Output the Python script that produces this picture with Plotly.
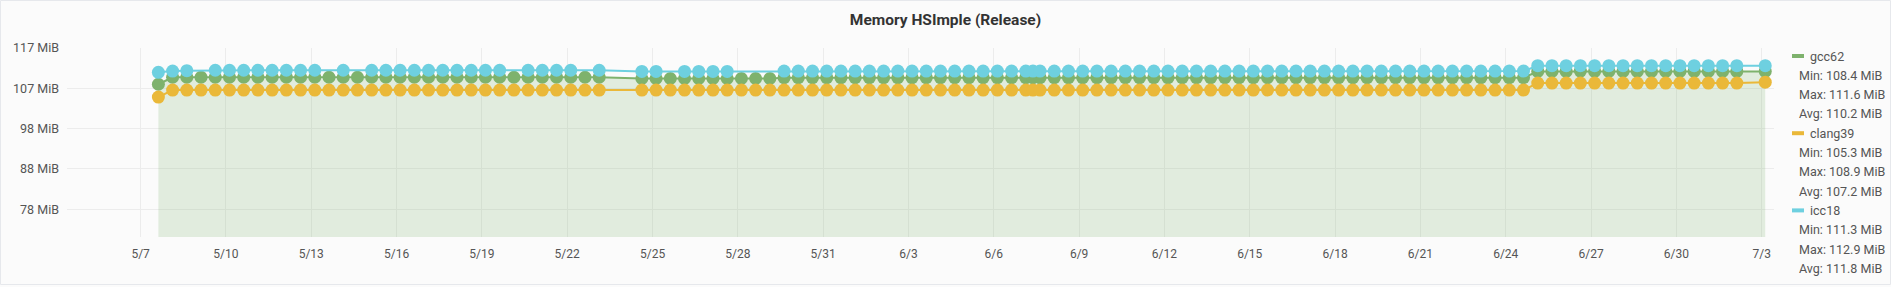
import plotly.graph_objects as go

# ---------------- data ----------------
timestamps = [
    "2018-05-07 15:00", "2018-05-08 03:00", "2018-05-08 15:00", "2018-05-09 03:00", "2018-05-09 15:00",
    "2018-05-10 03:00", "2018-05-10 15:00", "2018-05-11 03:00", "2018-05-11 15:00", "2018-05-12 03:00",
    "2018-05-12 15:00", "2018-05-13 03:00", "2018-05-13 15:00", "2018-05-14 03:00", "2018-05-14 15:00",
    "2018-05-15 03:00", "2018-05-15 15:00", "2018-05-16 03:00", "2018-05-16 15:00", "2018-05-17 03:00",
    "2018-05-17 15:00", "2018-05-18 03:00", "2018-05-18 15:00", "2018-05-19 03:00", "2018-05-19 15:00",
    "2018-05-20 03:00", "2018-05-20 15:00", "2018-05-21 03:00", "2018-05-21 15:00", "2018-05-22 03:00",
    "2018-05-22 15:00", "2018-05-23 03:00", "2018-05-24 15:00", "2018-05-25 03:00", "2018-05-25 15:00",
    "2018-05-26 03:00", "2018-05-26 15:00", "2018-05-27 03:00", "2018-05-27 15:00", "2018-05-28 03:00",
    "2018-05-28 15:00", "2018-05-29 03:00", "2018-05-29 15:00", "2018-05-30 03:00", "2018-05-30 15:00",
    "2018-05-31 03:00", "2018-05-31 15:00", "2018-06-01 03:00", "2018-06-01 15:00", "2018-06-02 03:00",
    "2018-06-02 15:00", "2018-06-03 03:00", "2018-06-03 15:00", "2018-06-04 03:00", "2018-06-04 15:00",
    "2018-06-05 03:00", "2018-06-05 15:00", "2018-06-06 03:00", "2018-06-06 15:00", "2018-06-07 03:00",
    "2018-06-07 09:00", "2018-06-07 15:00", "2018-06-08 03:00", "2018-06-08 15:00", "2018-06-09 03:00",
    "2018-06-09 15:00", "2018-06-10 03:00", "2018-06-10 15:00", "2018-06-11 03:00", "2018-06-11 15:00",
    "2018-06-12 03:00", "2018-06-12 15:00", "2018-06-13 03:00", "2018-06-13 15:00", "2018-06-14 03:00",
    "2018-06-14 15:00", "2018-06-15 03:00", "2018-06-15 15:00", "2018-06-16 03:00", "2018-06-16 15:00",
    "2018-06-17 03:00", "2018-06-17 15:00", "2018-06-18 03:00", "2018-06-18 15:00", "2018-06-19 03:00",
    "2018-06-19 15:00", "2018-06-20 03:00", "2018-06-20 15:00", "2018-06-21 03:00", "2018-06-21 15:00",
    "2018-06-22 03:00", "2018-06-22 15:00", "2018-06-23 03:00", "2018-06-23 15:00", "2018-06-24 03:00",
    "2018-06-24 15:00", "2018-06-25 03:00", "2018-06-25 15:00", "2018-06-26 03:00", "2018-06-26 15:00",
    "2018-06-27 03:00", "2018-06-27 15:00", "2018-06-28 03:00", "2018-06-28 15:00", "2018-06-29 03:00",
    "2018-06-29 15:00", "2018-06-30 03:00", "2018-06-30 15:00", "2018-07-01 03:00", "2018-07-01 15:00",
    "2018-07-02 03:00", "2018-07-03 03:00",
]

gcc62 = [
    108.4, 110.1, 110.1, 110.1, 110.1, 110.1, 110.1, 110.1, 110.1, 110.1,
    110.1, 110.1, 110.1, 110.1, 110.1, 110.1, 110.1, 110.1, 110.1, 110.1,
    110.1, 110.1, 110.1, 110.1, 110.1, 110.1, 110.1, 110.1, 110.1, 110.1,
    110.1, 110.1, 109.8, 109.8, 109.8, 109.8, 109.8, 109.8, 109.8, 109.8,
    109.8, 109.8, 110.0, 110.0, 110.0, 110.0, 110.0, 110.0, 110.0, 110.0,
    110.0, 110.0, 110.0, 110.0, 110.0, 110.0, 110.0, 110.0, 110.0, 110.0,
    110.0, 110.0, 110.0, 110.0, 110.0, 110.0, 110.0, 110.0, 110.0, 110.0,
    110.0, 110.0, 110.0, 110.0, 110.0, 110.0, 110.0, 110.0, 110.0, 110.0,
    110.0, 110.0, 110.0, 110.0, 110.0, 110.0, 110.0, 110.0, 110.0, 110.0,
    110.0, 110.0, 110.0, 110.0, 110.0, 110.0, 111.5, 111.5, 111.5, 111.6,
    111.5, 111.5, 111.5, 111.5, 111.5, 111.5, 111.5, 111.5, 111.5, 111.5,
    111.5, 111.5,
]

clang39 = [
    105.3, 107.0, 107.0, 107.0, 107.0, 107.0, 107.0, 107.0, 107.0, 107.0,
    107.0, 107.0, 107.0, 107.0, 107.0, 107.0, 107.0, 107.0, 107.0, 107.0,
    107.0, 107.0, 107.0, 107.0, 107.0, 107.0, 107.0, 107.0, 107.0, 107.0,
    107.0, 107.0, 107.0, 107.0, 107.0, 107.0, 107.0, 107.0, 107.0, 107.0,
    107.0, 107.0, 107.0, 107.0, 107.0, 107.0, 107.0, 107.0, 107.0, 107.0,
    107.0, 107.0, 107.0, 107.0, 107.0, 107.0, 107.0, 107.0, 107.0, 107.0,
    107.0, 107.0, 107.0, 107.0, 107.0, 107.0, 107.0, 107.0, 107.0, 107.0,
    107.0, 107.0, 107.0, 107.0, 107.0, 107.0, 107.0, 107.0, 107.0, 107.0,
    107.0, 107.0, 107.0, 107.0, 107.0, 107.0, 107.0, 107.0, 107.0, 107.0,
    107.0, 107.0, 107.0, 107.0, 107.0, 107.0, 108.7, 108.7, 108.7, 108.7,
    108.7, 108.7, 108.7, 108.7, 108.7, 108.7, 108.7, 108.7, 108.7, 108.7,
    108.7, 108.9,
]

icc18 = [
    111.3, 111.6, 111.7, None, 111.8, 111.8, 111.8, 111.8, 111.8, 111.8,
    111.8, 111.8, None, 111.8, None, 111.8, 111.8, 111.8, 111.8, 111.8,
    111.8, 111.8, 111.8, 111.8, 111.8, None, 111.8, 111.8, 111.8, 111.8,
    None, 111.8, 111.5, 111.5, None, 111.5, 111.5, 111.5, 111.5, None,
    None, None, 111.6, 111.6, 111.6, 111.6, 111.6, 111.6, 111.6, 111.6,
    111.6, 111.6, 111.6, 111.6, 111.6, 111.6, 111.6, 111.6, 111.6, 111.6,
    111.6, 111.6, 111.6, 111.6, 111.6, 111.6, 111.6, 111.6, 111.6, 111.6,
    111.6, 111.6, 111.6, 111.6, 111.6, 111.6, 111.6, 111.6, 111.6, 111.6,
    111.6, 111.6, 111.6, 111.6, 111.6, 111.6, 111.6, 111.6, 111.6, 111.6,
    111.6, 111.6, 111.6, 111.6, 111.6, 111.6, 112.9, 112.9, 112.9, 112.9,
    112.9, 112.9, 112.9, 112.9, 112.9, 112.9, 112.9, 112.9, 112.9, 112.9,
    112.9, 112.9,
]

series_names = ["gcc62", "clang39", "icc18"]
series_colors = ["#7EB26D", "#EAB839", "#6ED0E0"]
legend_min = ["108.4 MiB", "105.3 MiB", "111.3 MiB"]
legend_max = ["111.6 MiB", "108.9 MiB", "112.9 MiB"]
legend_avg = ["110.2 MiB", "107.2 MiB", "111.8 MiB"]

y_tick_values = [78.125, 87.890625, 97.65625, 107.421875, 117.1875]
y_tick_labels = ["78 MiB", "88 MiB", "98 MiB", "107 MiB", "117 MiB"]

title_text = "Memory HSImple (Release)"

# ---------------- layout geometry ----------------
W, H = 1891, 287
L, R, T, B = 67, 117, 48, 50
PW, PH = W - L - R, H - T - B


def px(x):
    return (x - L) / PW


def py(y):
    return (H - B - y) / PH


FONT = "Roboto, 'Open Sans', sans-serif"
TEXT_COLOR = "#555555"

fig = go.Figure()

values = [gcc62, clang39, icc18]
for i, (name, color, vals) in enumerate(zip(series_names, series_colors, values)):
    fig.add_trace(go.Scatter(
        x=timestamps, y=vals, name=name, mode="lines+markers",
        connectgaps=True,
        line=dict(color=color, width=2),
        marker=dict(color=color, size=13, line=dict(width=0)),
        fill="tozeroy" if i == 0 else None,
        fillcolor="rgba(126,178,109,0.2)" if i == 0 else None,
        hoverinfo="skip",
    ))

fig.update_layout(
    width=W, height=H,
    margin=dict(l=L, r=R, t=T, b=B, pad=0),
    paper_bgcolor="#fbfbfb",
    plot_bgcolor="#fbfbfb",
    showlegend=False,
    font=dict(family=FONT, size=12, color=TEXT_COLOR),
    title=dict(text="<b>" + title_text + "</b>", x=0.5, xanchor="center",
               xref="container", y=1 - 20 / H, yref="container", yanchor="middle",
               font=dict(family=FONT, size=15.5, color="#333333")),
    xaxis=dict(
        type="date",
        range=["2018-05-04 09:53", "2018-07-03 10:23"],
        tick0="2018-05-07", dtick=3 * 86400000,
        tickformat="%-m/%-d",
        showgrid=True, gridcolor="#ececec", gridwidth=1,
        zeroline=False, showline=False, ticks="",
        ticklabelstandoff=8,
        tickfont=dict(family=FONT, size=12, color=TEXT_COLOR),
        fixedrange=True,
    ),
    yaxis=dict(
        range=[71.39, 117.1875],
        tickmode="array", tickvals=y_tick_values, ticktext=y_tick_labels,
        showgrid=True, gridcolor="#ececec", gridwidth=1,
        zeroline=False, showline=False, ticks="",
        ticklabelstandoff=7,
        tickfont=dict(family=FONT, size=12.5, color=TEXT_COLOR),
        fixedrange=True,
    ),
)

# ---------------- legend (Grafana style, on the right) ----------------
row0_y, row_step = 56, 19.3
shapes = []
annotations = []
for i, name in enumerate(series_names):
    base = row0_y + i * 4 * row_step
    shapes.append(dict(type="rect", xref="paper", yref="paper",
                       x0=px(1792), x1=px(1804), y0=py(base + 2), y1=py(base - 2),
                       fillcolor=series_colors[i], line=dict(width=0)))
    annotations.append(dict(text=name, xref="paper", yref="paper",
                            x=px(1808), y=py(base), xanchor="left", yanchor="middle",
                            showarrow=False, font=dict(family=FONT, size=12.5, color=TEXT_COLOR)))
    for j, txt in enumerate(["Min: " + legend_min[i], "Max: " + legend_max[i], "Avg: " + legend_avg[i]]):
        annotations.append(dict(text=txt, xref="paper", yref="paper",
                                x=px(1797), y=py(base + (j + 1) * row_step),
                                xanchor="left", yanchor="middle", showarrow=False,
                                font=dict(family=FONT, size=12.5, color=TEXT_COLOR)))

# panel border
shapes.append(dict(type="rect", xref="paper", yref="paper",
                   x0=px(0.5), x1=px(W - 0.5), y0=py(284.5), y1=py(0.5),
                   line=dict(color="#e6e8ec", width=1), fillcolor="rgba(0,0,0,0)", layer="below"))

fig.update_layout(shapes=shapes, annotations=annotations)

fig.write_html("out.html", config={"displayModeBar": False})
